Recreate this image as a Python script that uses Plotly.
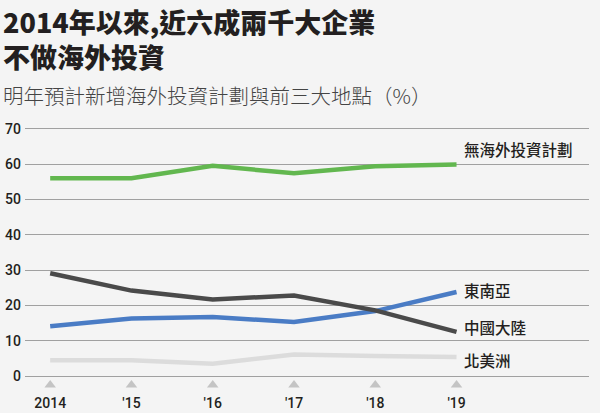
import plotly.graph_objects as go

years = [2014, 2015, 2016, 2017, 2018, 2019]
year_labels = ["2014", "'15", "'16", "'17", "'18", "'19"]
no_plan = [56.0, 56.0, 59.5, 57.4, 59.4, 59.9]
se_asia = [14.1, 16.3, 16.7, 15.3, 18.4, 23.8]
china = [29.1, 24.2, 21.7, 22.8, 18.6, 12.5]
n_america = [4.5, 4.5, 3.5, 6.1, 5.7, 5.4]
y_ticks = [0, 10, 20, 30, 40, 50, 60, 70]

series = [
    ("無海外投資計劃", no_plan, "#62b74f", 64.3),
    ("北美洲", n_america, "#dcdcdc", 4.5),
    ("東南亞", se_asia, "#4a7cc5", 24.3),
    ("中國大陸", china, "#4a4a4a", 13.9),
]

BG = "#f4f4f4"
fig = go.Figure()
for name, vals, color, _ in series:
    fig.add_trace(go.Scatter(x=years, y=vals, mode="lines", name=name,
                             line=dict(color=color, width=4.5), showlegend=False,
                             hoverinfo="skip"))

# triangle markers below axis
fig.add_trace(go.Scatter(x=years, y=[-2.5] * len(years), mode="markers",
                         marker=dict(symbol="triangle-up", size=10, color="#c4c4c4"),
                         cliponaxis=False, showlegend=False, hoverinfo="skip"))

annotations = []
for name, vals, color, ly in series:
    annotations.append(dict(x=years[-1], y=ly, xref="x", yref="y", text=name,
                            showarrow=False, xanchor="left", yanchor="middle", xshift=5,
                            font=dict(family="Noto Sans CJK TC", size=15.5, color="#231f20",
                                      weight=500)))

annotations.append(dict(x=-0.042, y=1.48, xref="paper", yref="paper",
                        text="2014年以來,近六成兩千大企業<br>不做海外投資",
                        showarrow=False, xanchor="left", yanchor="top", align="left",
                        font=dict(family="Noto Sans CJK TC", size=27, color="#231f20",
                                  weight=900)))
annotations.append(dict(x=-0.042, y=1.185, xref="paper", yref="paper",
                        text="明年預計新增海外投資計劃與前三大地點（%）",
                        showarrow=False, xanchor="left", yanchor="top", align="left",
                        font=dict(family="Noto Sans CJK TC", size=20.5, color="#444444",
                                  weight=300)))

fig.update_layout(
    width=600, height=413,
    margin=dict(l=25, r=11, t=127, b=21, autoexpand=False),
    paper_bgcolor=BG, plot_bgcolor=BG,
    annotations=annotations,
    xaxis=dict(range=[2013.69, 2020.63], tickvals=years, ticktext=year_labels,
               showgrid=False, zeroline=False, showline=False, ticks="",
               ticklabelstandoff=1, automargin=False,
               tickfont=dict(family="Roboto", size=14, color="#231f20", weight=500)),
    yaxis=dict(range=[-4.5, 70.5], tickvals=y_ticks, showgrid=True,
               gridcolor="#a0a0a0", gridwidth=1.2, zeroline=False, showline=False,
               ticks="", ticklabelstandoff=3, automargin=False,
               tickfont=dict(family="Roboto", size=14, color="#231f20", weight=500)),
)

fig.write_html("out.html", config={"displayModeBar": False},
               post_script="document.body.style.margin='0px';document.body.style.background='#f4f4f4';")
